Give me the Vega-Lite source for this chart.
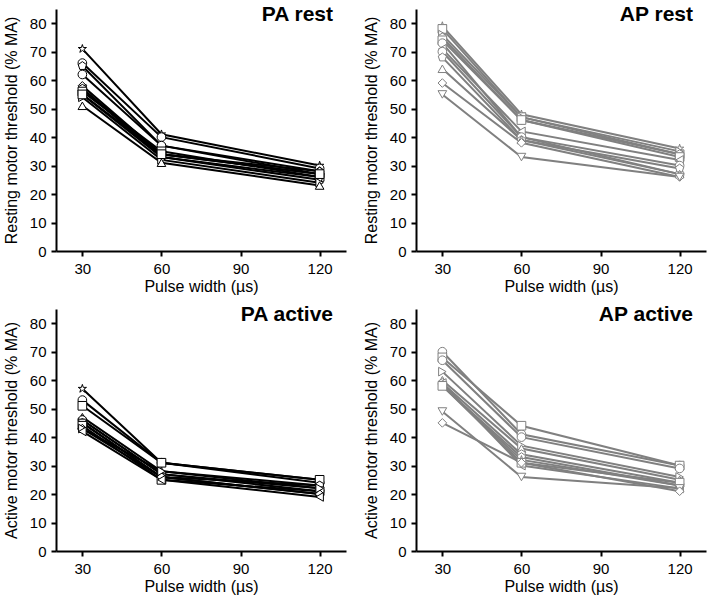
{
  "$schema": "https://vega.github.io/schema/vega-lite/v6.json",
  "padding": {"left": 3, "top": 4, "right": 2, "bottom": 2},
  "background": "white",
  "config": {
    "font": "Liberation Sans",
    "view": {"stroke": null},
    "axis": {
      "grid": false,
      "domainColor": "black",
      "domainWidth": 2,
      "tickColor": "black",
      "tickWidth": 2,
      "tickSize": 5,
      "labelFontSize": 15,
      "labelColor": "black",
      "labelPadding": 5,
      "titleFontSize": 16,
      "titleFontWeight": "normal",
      "titleColor": "black"
    },
    "title": {"fontSize": 21, "fontWeight": "bold", "color": "black", "anchor": "end", "offset": -16, "dx": -13, "frame": "group"},
    "concat": {"spacing": 17}
  },
  "data": {
    "values": [
      {"panel": "PA rest", "subject": "S1", "pw": 30, "v": 71}, {"panel": "PA rest", "subject": "S1", "pw": 60, "v": 41}, {"panel": "PA rest", "subject": "S1", "pw": 120, "v": 30},
      {"panel": "PA rest", "subject": "S2", "pw": 30, "v": 66}, {"panel": "PA rest", "subject": "S2", "pw": 60, "v": 40}, {"panel": "PA rest", "subject": "S2", "pw": 120, "v": 29},
      {"panel": "PA rest", "subject": "S10", "pw": 30, "v": 65}, {"panel": "PA rest", "subject": "S10", "pw": 60, "v": 37}, {"panel": "PA rest", "subject": "S10", "pw": 120, "v": 28},
      {"panel": "PA rest", "subject": "S11", "pw": 30, "v": 62}, {"panel": "PA rest", "subject": "S11", "pw": 60, "v": 37}, {"panel": "PA rest", "subject": "S11", "pw": 120, "v": 27},
      {"panel": "PA rest", "subject": "S6", "pw": 30, "v": 58}, {"panel": "PA rest", "subject": "S6", "pw": 60, "v": 34}, {"panel": "PA rest", "subject": "S6", "pw": 120, "v": 28},
      {"panel": "PA rest", "subject": "S7", "pw": 30, "v": 57}, {"panel": "PA rest", "subject": "S7", "pw": 60, "v": 34}, {"panel": "PA rest", "subject": "S7", "pw": 120, "v": 27},
      {"panel": "PA rest", "subject": "S9", "pw": 30, "v": 57}, {"panel": "PA rest", "subject": "S9", "pw": 60, "v": 33}, {"panel": "PA rest", "subject": "S9", "pw": 120, "v": 26},
      {"panel": "PA rest", "subject": "S3", "pw": 30, "v": 56}, {"panel": "PA rest", "subject": "S3", "pw": 60, "v": 35}, {"panel": "PA rest", "subject": "S3", "pw": 120, "v": 26},
      {"panel": "PA rest", "subject": "S5", "pw": 30, "v": 55}, {"panel": "PA rest", "subject": "S5", "pw": 60, "v": 33}, {"panel": "PA rest", "subject": "S5", "pw": 120, "v": 25},
      {"panel": "PA rest", "subject": "S8", "pw": 30, "v": 54}, {"panel": "PA rest", "subject": "S8", "pw": 60, "v": 32}, {"panel": "PA rest", "subject": "S8", "pw": 120, "v": 24},
      {"panel": "PA rest", "subject": "S12", "pw": 30, "v": 55}, {"panel": "PA rest", "subject": "S12", "pw": 60, "v": 34}, {"panel": "PA rest", "subject": "S12", "pw": 120, "v": 27},
      {"panel": "PA rest", "subject": "S4", "pw": 30, "v": 51}, {"panel": "PA rest", "subject": "S4", "pw": 60, "v": 31}, {"panel": "PA rest", "subject": "S4", "pw": 120, "v": 23},

      {"panel": "AP rest", "subject": "S1", "pw": 30, "v": 79}, {"panel": "AP rest", "subject": "S1", "pw": 60, "v": 48}, {"panel": "AP rest", "subject": "S1", "pw": 120, "v": 36},
      {"panel": "AP rest", "subject": "S3", "pw": 30, "v": 78}, {"panel": "AP rest", "subject": "S3", "pw": 60, "v": 47}, {"panel": "AP rest", "subject": "S3", "pw": 120, "v": 34},
      {"panel": "AP rest", "subject": "S8", "pw": 30, "v": 76}, {"panel": "AP rest", "subject": "S8", "pw": 60, "v": 47}, {"panel": "AP rest", "subject": "S8", "pw": 120, "v": 35},
      {"panel": "AP rest", "subject": "S9", "pw": 30, "v": 75}, {"panel": "AP rest", "subject": "S9", "pw": 60, "v": 46}, {"panel": "AP rest", "subject": "S9", "pw": 120, "v": 34},
      {"panel": "AP rest", "subject": "S12", "pw": 30, "v": 74}, {"panel": "AP rest", "subject": "S12", "pw": 60, "v": 46}, {"panel": "AP rest", "subject": "S12", "pw": 120, "v": 33},
      {"panel": "AP rest", "subject": "S11", "pw": 30, "v": 73}, {"panel": "AP rest", "subject": "S11", "pw": 60, "v": 40}, {"panel": "AP rest", "subject": "S11", "pw": 120, "v": 27},
      {"panel": "AP rest", "subject": "S7", "pw": 30, "v": 71}, {"panel": "AP rest", "subject": "S7", "pw": 60, "v": 42}, {"panel": "AP rest", "subject": "S7", "pw": 120, "v": 32},
      {"panel": "AP rest", "subject": "S2", "pw": 30, "v": 70}, {"panel": "AP rest", "subject": "S2", "pw": 60, "v": 40}, {"panel": "AP rest", "subject": "S2", "pw": 120, "v": 30},
      {"panel": "AP rest", "subject": "S10", "pw": 30, "v": 68}, {"panel": "AP rest", "subject": "S10", "pw": 60, "v": 39}, {"panel": "AP rest", "subject": "S10", "pw": 120, "v": 29},
      {"panel": "AP rest", "subject": "S4", "pw": 30, "v": 64}, {"panel": "AP rest", "subject": "S4", "pw": 60, "v": 39}, {"panel": "AP rest", "subject": "S4", "pw": 120, "v": 27},
      {"panel": "AP rest", "subject": "S6", "pw": 30, "v": 59}, {"panel": "AP rest", "subject": "S6", "pw": 60, "v": 38}, {"panel": "AP rest", "subject": "S6", "pw": 120, "v": 26},
      {"panel": "AP rest", "subject": "S5", "pw": 30, "v": 55}, {"panel": "AP rest", "subject": "S5", "pw": 60, "v": 33}, {"panel": "AP rest", "subject": "S5", "pw": 120, "v": 26},

      {"panel": "PA active", "subject": "S1", "pw": 30, "v": 57}, {"panel": "PA active", "subject": "S1", "pw": 60, "v": 31}, {"panel": "PA active", "subject": "S1", "pw": 120, "v": 25},
      {"panel": "PA active", "subject": "S2", "pw": 30, "v": 53}, {"panel": "PA active", "subject": "S2", "pw": 60, "v": 31}, {"panel": "PA active", "subject": "S2", "pw": 120, "v": 24},
      {"panel": "PA active", "subject": "S3", "pw": 30, "v": 51}, {"panel": "PA active", "subject": "S3", "pw": 60, "v": 31}, {"panel": "PA active", "subject": "S3", "pw": 120, "v": 25},
      {"panel": "PA active", "subject": "S4", "pw": 30, "v": 47}, {"panel": "PA active", "subject": "S4", "pw": 60, "v": 28}, {"panel": "PA active", "subject": "S4", "pw": 120, "v": 23},
      {"panel": "PA active", "subject": "S10", "pw": 30, "v": 46}, {"panel": "PA active", "subject": "S10", "pw": 60, "v": 27}, {"panel": "PA active", "subject": "S10", "pw": 120, "v": 22},
      {"panel": "PA active", "subject": "S11", "pw": 30, "v": 46}, {"panel": "PA active", "subject": "S11", "pw": 60, "v": 27}, {"panel": "PA active", "subject": "S11", "pw": 120, "v": 21},
      {"panel": "PA active", "subject": "S9", "pw": 30, "v": 45}, {"panel": "PA active", "subject": "S9", "pw": 60, "v": 26}, {"panel": "PA active", "subject": "S9", "pw": 120, "v": 23},
      {"panel": "PA active", "subject": "S5", "pw": 30, "v": 45}, {"panel": "PA active", "subject": "S5", "pw": 60, "v": 26}, {"panel": "PA active", "subject": "S5", "pw": 120, "v": 20},
      {"panel": "PA active", "subject": "S12", "pw": 30, "v": 44}, {"panel": "PA active", "subject": "S12", "pw": 60, "v": 25}, {"panel": "PA active", "subject": "S12", "pw": 120, "v": 21},
      {"panel": "PA active", "subject": "S6", "pw": 30, "v": 43}, {"panel": "PA active", "subject": "S6", "pw": 60, "v": 26}, {"panel": "PA active", "subject": "S6", "pw": 120, "v": 20},
      {"panel": "PA active", "subject": "S8", "pw": 30, "v": 43}, {"panel": "PA active", "subject": "S8", "pw": 60, "v": 28}, {"panel": "PA active", "subject": "S8", "pw": 120, "v": 22},
      {"panel": "PA active", "subject": "S7", "pw": 30, "v": 42}, {"panel": "PA active", "subject": "S7", "pw": 60, "v": 25}, {"panel": "PA active", "subject": "S7", "pw": 120, "v": 19},

      {"panel": "AP active", "subject": "S2", "pw": 30, "v": 70}, {"panel": "AP active", "subject": "S2", "pw": 60, "v": 41}, {"panel": "AP active", "subject": "S2", "pw": 120, "v": 30},
      {"panel": "AP active", "subject": "S3", "pw": 30, "v": 68}, {"panel": "AP active", "subject": "S3", "pw": 60, "v": 44}, {"panel": "AP active", "subject": "S3", "pw": 120, "v": 30},
      {"panel": "AP active", "subject": "S11", "pw": 30, "v": 67}, {"panel": "AP active", "subject": "S11", "pw": 60, "v": 40}, {"panel": "AP active", "subject": "S11", "pw": 120, "v": 29},
      {"panel": "AP active", "subject": "S8", "pw": 30, "v": 63}, {"panel": "AP active", "subject": "S8", "pw": 60, "v": 37}, {"panel": "AP active", "subject": "S8", "pw": 120, "v": 26},
      {"panel": "AP active", "subject": "S4", "pw": 30, "v": 60}, {"panel": "AP active", "subject": "S4", "pw": 60, "v": 36}, {"panel": "AP active", "subject": "S4", "pw": 120, "v": 25},
      {"panel": "AP active", "subject": "S9", "pw": 30, "v": 59}, {"panel": "AP active", "subject": "S9", "pw": 60, "v": 34}, {"panel": "AP active", "subject": "S9", "pw": 120, "v": 24},
      {"panel": "AP active", "subject": "S7", "pw": 30, "v": 59}, {"panel": "AP active", "subject": "S7", "pw": 60, "v": 30}, {"panel": "AP active", "subject": "S7", "pw": 120, "v": 22},
      {"panel": "AP active", "subject": "S10", "pw": 30, "v": 58}, {"panel": "AP active", "subject": "S10", "pw": 60, "v": 33}, {"panel": "AP active", "subject": "S10", "pw": 120, "v": 23},
      {"panel": "AP active", "subject": "S1", "pw": 30, "v": 58}, {"panel": "AP active", "subject": "S1", "pw": 60, "v": 32}, {"panel": "AP active", "subject": "S1", "pw": 120, "v": 23},
      {"panel": "AP active", "subject": "S12", "pw": 30, "v": 58}, {"panel": "AP active", "subject": "S12", "pw": 60, "v": 31}, {"panel": "AP active", "subject": "S12", "pw": 120, "v": 24},
      {"panel": "AP active", "subject": "S5", "pw": 30, "v": 49}, {"panel": "AP active", "subject": "S5", "pw": 60, "v": 26}, {"panel": "AP active", "subject": "S5", "pw": 120, "v": 22},
      {"panel": "AP active", "subject": "S6", "pw": 30, "v": 45}, {"panel": "AP active", "subject": "S6", "pw": 60, "v": 31}, {"panel": "AP active", "subject": "S6", "pw": 120, "v": 21}
    ]
  },
  "resolve": {"scale": {"shape": "shared"}},
  "spacing": 10,
  "vconcat": [
    {
      "hconcat": [
        {
          "title": "PA rest",
          "width": 290, "height": 242,
          "transform": [{"filter": "datum.panel === 'PA rest'"}],
          "encoding": {
            "x": {"field": "pw", "type": "quantitative", "scale": {"domain": [20, 130], "nice": false, "zero": false}, "axis": {"values": [30, 60, 90, 120], "title": "Pulse width (µs)", "titlePadding": 2}},
            "y": {"field": "v", "type": "quantitative", "scale": {"domain": [0, 85], "nice": false}, "axis": {"values": [0, 10, 20, 30, 40, 50, 60, 70, 80], "title": "Resting motor threshold (% MA)", "titlePadding": 10}}
          },
          "layer": [
            {"mark": {"type": "line", "color": "black", "strokeWidth": 2}, "encoding": {"detail": {"field": "subject"}}},
            {"mark": {"type": "point", "filled": true, "fill": "white", "stroke": "black", "strokeWidth": 1, "size": 75, "opacity": 1},
             "encoding": {"shape": {"field": "subject", "type": "nominal", "legend": null, "scale": {"domain": ["S1","S2","S3","S4","S5","S6","S7","S8","S9","S10","S11","S12"], "range": ["M0,-1L0.224,-0.309L0.951,-0.309L0.363,0.118L0.588,0.809L0,0.382L-0.588,0.809L-0.363,0.118L-0.951,-0.309L-0.224,-0.309Z","circle","square","triangle-up","triangle-down","diamond","triangle-left","triangle-right","M0,-1L0.866,-0.5L0.866,0.5L0,1L-0.866,0.5L-0.866,-0.5Z","M0,-1L0.951,-0.309L0.588,0.809L-0.588,0.809L-0.951,-0.309Z","circle","square"]}}}}
          ]
        },
        {
          "title": "AP rest",
          "width": 290, "height": 242,
          "transform": [{"filter": "datum.panel === 'AP rest'"}],
          "encoding": {
            "x": {"field": "pw", "type": "quantitative", "scale": {"domain": [20, 130], "nice": false, "zero": false}, "axis": {"values": [30, 60, 90, 120], "title": "Pulse width (µs)", "titlePadding": 2}},
            "y": {"field": "v", "type": "quantitative", "scale": {"domain": [0, 85], "nice": false}, "axis": {"values": [0, 10, 20, 30, 40, 50, 60, 70, 80], "title": "Resting motor threshold (% MA)", "titlePadding": 10}}
          },
          "layer": [
            {"mark": {"type": "line", "color": "#808080", "strokeWidth": 2}, "encoding": {"detail": {"field": "subject"}}},
            {"mark": {"type": "point", "filled": true, "fill": "white", "stroke": "#808080", "strokeWidth": 1, "size": 75, "opacity": 1},
             "encoding": {"shape": {"field": "subject", "type": "nominal", "legend": null}}}
          ]
        }
      ]
    },
    {
      "hconcat": [
        {
          "title": "PA active",
          "width": 290, "height": 242,
          "transform": [{"filter": "datum.panel === 'PA active'"}],
          "encoding": {
            "x": {"field": "pw", "type": "quantitative", "scale": {"domain": [20, 130], "nice": false, "zero": false}, "axis": {"values": [30, 60, 90, 120], "title": "Pulse width (µs)", "titlePadding": 2}},
            "y": {"field": "v", "type": "quantitative", "scale": {"domain": [0, 85], "nice": false}, "axis": {"values": [0, 10, 20, 30, 40, 50, 60, 70, 80], "title": "Active motor threshold (% MA)", "titlePadding": 10}}
          },
          "layer": [
            {"mark": {"type": "line", "color": "black", "strokeWidth": 2}, "encoding": {"detail": {"field": "subject"}}},
            {"mark": {"type": "point", "filled": true, "fill": "white", "stroke": "black", "strokeWidth": 1, "size": 75, "opacity": 1},
             "encoding": {"shape": {"field": "subject", "type": "nominal", "legend": null}}}
          ]
        },
        {
          "title": "AP active",
          "width": 290, "height": 242,
          "transform": [{"filter": "datum.panel === 'AP active'"}],
          "encoding": {
            "x": {"field": "pw", "type": "quantitative", "scale": {"domain": [20, 130], "nice": false, "zero": false}, "axis": {"values": [30, 60, 90, 120], "title": "Pulse width (µs)", "titlePadding": 2}},
            "y": {"field": "v", "type": "quantitative", "scale": {"domain": [0, 85], "nice": false}, "axis": {"values": [0, 10, 20, 30, 40, 50, 60, 70, 80], "title": "Active motor threshold (% MA)", "titlePadding": 10}}
          },
          "layer": [
            {"mark": {"type": "line", "color": "#808080", "strokeWidth": 2}, "encoding": {"detail": {"field": "subject"}}},
            {"mark": {"type": "point", "filled": true, "fill": "white", "stroke": "#808080", "strokeWidth": 1, "size": 75, "opacity": 1},
             "encoding": {"shape": {"field": "subject", "type": "nominal", "legend": null}}}
          ]
        }
      ]
    }
  ]
}
